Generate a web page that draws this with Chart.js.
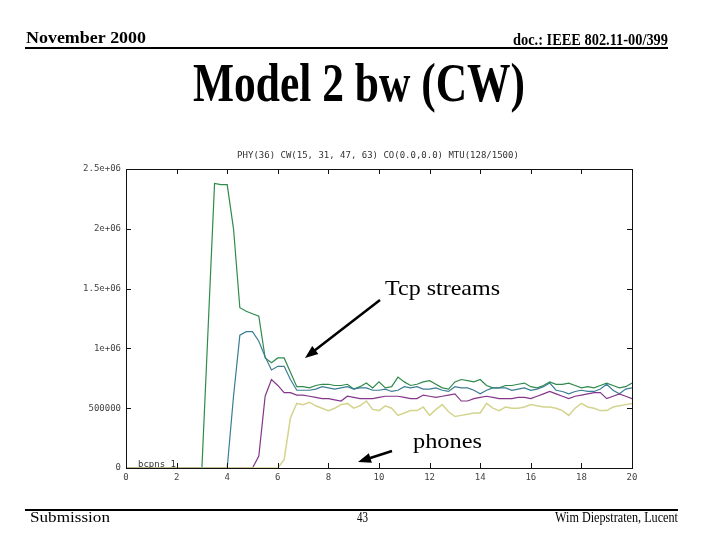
<!DOCTYPE html>
<html>
<head>
<meta charset="utf-8">
<title>Model 2 bw (CW)</title>
<script src="https://cdn.jsdelivr.net/npm/chart.js@4.4.0/dist/chart.umd.min.js"></script>
<style>
  html, body { margin: 0; padding: 0; background: #fff; }
  canvas { display: block; }
</style>
</head>
<body>
<canvas id="chart1" width="720" height="540"></canvas>
<script>
// time (s), sampled every 0.25
var times = [0, 0.25, 0.5, 0.75, 1, 1.25, 1.5, 1.75, 2, 2.25, 2.5, 2.75, 3, 3.25, 3.5, 3.75,
  4, 4.25, 4.5, 4.75, 5, 5.25, 5.5, 5.75, 6, 6.25, 6.5, 6.75, 7, 7.25, 7.5, 7.75,
  8, 8.25, 8.5, 8.75, 9, 9.25, 9.5, 9.75, 10, 10.25, 10.5, 10.75, 11, 11.25, 11.5, 11.75,
  12, 12.25, 12.5, 12.75, 13, 13.25, 13.5, 13.75, 14, 14.25, 14.5, 14.75, 15, 15.25, 15.5, 15.75,
  16, 16.25, 16.5, 16.75, 17, 17.25, 17.5, 17.75, 18, 18.25, 18.5, 18.75, 19, 19.25, 19.5, 19.75, 20];

// tcp streams
var greenBw = [0, 0, 0, 0, 0, 0, 0, 0, 0, 0, 0, 0, 0,
  1190000, 2380000, 2370000, 2370000, 2000000, 1340000, 1310000, 1290000, 1270000, 920000, 880000,
  920000, 920000, 800000, 680000,
  680000, 670000, 690000, 700000, 700000, 690000, 690000, 700000, 660000, 680000, 710000, 670000,
  720000, 670000, 680000, 760000, 720000, 690000, 700000, 720000, 730000, 700000, 670000, 660000,
  720000, 740000, 730000, 720000, 740000, 690000, 670000, 670000, 690000, 690000, 700000, 710000,
  680000, 670000, 690000, 720000, 700000, 700000, 710000, 690000, 670000, 680000, 670000, 690000,
  710000, 690000, 670000, 680000, 710000];
var tealBw = [0, 0, 0, 0, 0, 0, 0, 0, 0, 0, 0, 0, 0, 0, 0, 0, 0,
  600000, 1110000, 1140000, 1140000, 1060000, 930000, 820000, 850000, 850000, 740000, 650000,
  650000, 650000, 660000, 680000, 670000, 660000, 670000, 680000, 660000, 670000, 670000, 650000,
  650000, 660000, 640000, 650000, 680000, 670000, 680000, 660000, 660000, 670000, 650000, 640000,
  680000, 670000, 670000, 650000, 620000, 650000, 670000, 670000, 670000, 650000, 660000, 670000,
  650000, 660000, 680000, 710000, 650000, 640000, 620000, 640000, 650000, 640000, 640000, 660000,
  700000, 650000, 620000, 660000, 670000];
var magentaBw = [0, 0, 0, 0, 0, 0, 0, 0, 0, 0, 0, 0, 0, 0, 0, 0, 0, 0, 0, 0, 0,
  100000, 600000, 740000, 690000, 630000, 630000, 610000,
  610000, 600000, 590000, 580000, 580000, 570000, 560000, 600000, 590000, 580000, 580000, 580000,
  590000, 600000, 600000, 600000, 590000, 580000, 580000, 610000, 600000, 590000, 600000, 610000,
  620000, 560000, 560000, 580000, 590000, 600000, 590000, 580000, 580000, 580000, 590000, 590000,
  580000, 600000, 620000, 640000, 620000, 600000, 580000, 600000, 610000, 620000, 630000, 630000,
  580000, 600000, 620000, 600000, 580000];
// phones
var yellowBw = [0, 0, 0, 0, 0, 0, 0, 0, 0, 0, 0, 0, 0, 0, 0, 0, 0, 0, 0, 0, 0, 0, 0, 0, 0,
  70000, 420000, 540000,
  530000, 550000, 520000, 500000, 480000, 500000, 530000, 540000, 500000, 520000, 560000, 490000,
  480000, 520000, 500000, 440000, 460000, 480000, 480000, 510000, 440000, 490000, 530000, 470000,
  430000, 440000, 450000, 460000, 460000, 540000, 500000, 480000, 510000, 500000, 500000, 510000,
  530000, 520000, 510000, 510000, 500000, 480000, 440000, 500000, 540000, 510000, 500000, 480000,
  480000, 510000, 520000, 530000, 540000];

var yTickValues = [0, 500000, 1000000, 1500000, 2000000, 2500000];
var yTickLabels = ['0', '500000', '1e+06', '1.5e+06', '2e+06', '2.5e+06'];
var xTickValues = [0, 2, 4, 6, 8, 10, 12, 14, 16, 18, 20];

function toPoints(values) {
  var pts = [];
  for (var i = 0; i < times.length; i++) {
    pts.push({ x: times[i], y: values[i] });
  }
  return pts;
}

function fitText(ctx, text, x, y, width, font) {
  ctx.save();
  ctx.font = font;
  ctx.fillStyle = '#000';
  ctx.textAlign = 'left';
  ctx.textBaseline = 'alphabetic';
  var w = ctx.measureText(text).width;
  ctx.translate(x, y);
  ctx.scale(width / w, 1);
  ctx.fillText(text, 0, 0);
  ctx.restore();
}

function drawArrow(ctx, x1, y1, x2, y2) {
  var a = Math.atan2(y2 - y1, x2 - x1);
  var c = Math.cos(a), s = Math.sin(a);
  ctx.save();
  ctx.strokeStyle = '#000';
  ctx.fillStyle = '#000';
  ctx.lineWidth = 2.5;
  ctx.beginPath();
  ctx.moveTo(x1, y1);
  ctx.lineTo(x2 - 8 * c, y2 - 8 * s);
  ctx.stroke();
  ctx.beginPath();
  ctx.moveTo(x2, y2);
  ctx.lineTo(x2 - 13 * c + 5 * s, y2 - 13 * s - 5 * c);
  ctx.lineTo(x2 - 13 * c - 5 * s, y2 - 13 * s + 5 * c);
  ctx.closePath();
  ctx.fill();
  ctx.restore();
}

// slide decoration + gnuplot frame
var slidePlugin = {
  id: 'slide',
  afterDraw: function (chart) {
    var ctx = chart.ctx;
    var area = chart.chartArea;
    var xs = chart.scales.x, ys = chart.scales.y;

    // plot frame with inward ticks
    ctx.save();
    ctx.strokeStyle = '#111';
    ctx.lineWidth = 1;
    ctx.strokeRect(Math.round(area.left) + 0.5, Math.round(area.top) + 0.5,
      Math.round(area.right - area.left), Math.round(area.bottom - area.top));
    ctx.beginPath();
    xTickValues.forEach(function (v) {
      var px = Math.round(xs.getPixelForValue(v)) + 0.5;
      ctx.moveTo(px, area.bottom); ctx.lineTo(px, area.bottom - 5);
      ctx.moveTo(px, area.top); ctx.lineTo(px, area.top + 5);
    });
    yTickValues.forEach(function (v) {
      var py = Math.round(ys.getPixelForValue(v)) + 0.5;
      ctx.moveTo(area.left, py); ctx.lineTo(area.left + 5, py);
      ctx.moveTo(area.right, py); ctx.lineTo(area.right - 5, py);
    });
    ctx.stroke();

    // gnuplot title and key
    ctx.fillStyle = '#333';
    ctx.font = '9px "DejaVu Sans Mono"';
    ctx.textAlign = 'center';
    ctx.textBaseline = 'middle';
    ctx.fillText('PHY(36) CW(15, 31, 47, 63) CO(0.0,0.0) MTU(128/1500)', 378, 156);
    ctx.textAlign = 'left';
    ctx.fillText('bcpns 1', 138, 465);
    ctx.restore();

    // header
    fitText(ctx, 'November 2000', 26, 43, 120, 'bold 17px "Liberation Serif"');
    fitText(ctx, 'doc.: IEEE 802.11-00/399', 513, 45, 155, 'bold 16px "Liberation Serif"');
    ctx.fillStyle = '#000';
    ctx.fillRect(25, 47, 643, 2);

    // slide title
    fitText(ctx, 'Model 2 bw (CW)', 193, 101, 332, 'bold 54px "Liberation Serif"');

    // annotations
    fitText(ctx, 'Tcp streams', 385, 295, 115, '22px "Liberation Serif"');
    drawArrow(ctx, 380, 300, 305, 358);
    fitText(ctx, 'phones', 413, 448, 69, '22px "Liberation Serif"');
    drawArrow(ctx, 392, 451, 358, 462);

    // footer
    ctx.fillStyle = '#000';
    ctx.fillRect(25, 509, 653, 2);
    fitText(ctx, 'Submission', 30, 522, 80, '15px "Liberation Serif"');
    fitText(ctx, '43', 357, 522, 11, '15px "Liberation Serif"');
    fitText(ctx, 'Wim Diepstraten, Lucent', 555, 522, 123, '15px "Liberation Serif"');
  }
};

var ctx1 = document.getElementById('chart1').getContext('2d');
var myChart1 = new Chart(ctx1, {
  type: 'line',
  data: {
    datasets: [
      { label: 'phones', data: toPoints(yellowBw), borderColor: '#d4d48e', borderWidth: 1.5 },
      { label: 'tcp 3', data: toPoints(magentaBw), borderColor: '#83368a', borderWidth: 1.2 },
      { label: 'tcp 2', data: toPoints(tealBw), borderColor: '#3a7d94', borderWidth: 1.2 },
      { label: 'tcp 1', data: toPoints(greenBw), borderColor: '#2f8a4c', borderWidth: 1.2 }
    ]
  },
  options: {
    responsive: false,
    animation: false,
    devicePixelRatio: 1,
    elements: { point: { radius: 0 }, line: { tension: 0 } },
    layout: { padding: { left: 0, right: 88, top: 169, bottom: 50 } },
    plugins: { legend: { display: false }, tooltip: { enabled: false } },
    scales: {
      x: {
        type: 'linear',
        min: 0,
        max: 20,
        grid: { display: false, drawTicks: false },
        border: { display: false },
        afterBuildTicks: function (scale) {
          scale.ticks = xTickValues.map(function (v) { return { value: v }; });
        },
        afterFit: function (scale) { scale.height = 22; },
        ticks: {
          padding: 4,
          maxRotation: 0,
          color: '#444',
          font: { family: 'DejaVu Sans Mono', size: 9 },
          callback: function (v) { return String(v); }
        }
      },
      y: {
        type: 'linear',
        min: 0,
        max: 2500000,
        grid: { display: false, drawTicks: false },
        border: { display: false },
        afterBuildTicks: function (scale) {
          scale.ticks = yTickValues.map(function (v) { return { value: v }; });
        },
        afterFit: function (scale) { scale.width = 126; },
        ticks: {
          padding: 5,
          color: '#444',
          font: { family: 'DejaVu Sans Mono', size: 9 },
          callback: function (v) { return yTickLabels[yTickValues.indexOf(v)]; }
        }
      }
    }
  },
  plugins: [slidePlugin]
});
</script>
</body>
</html>
